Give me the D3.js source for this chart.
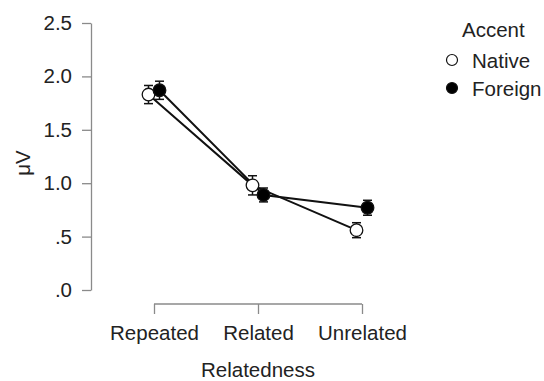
<!DOCTYPE html>
<html><head><meta charset="utf-8">
<script src="https://cdn.jsdelivr.net/npm/d3@7"></script>
<style>body{margin:0;background:#fff;} text{font-family:"Liberation Sans",Arial,sans-serif;}</style>
</head><body>
<svg id="c" width="544" height="381"></svg>
<script>
const categories = ["Repeated","Related","Unrelated"];
const seriesNames = ["Native","Foreign"];
const nativeValues = [1.83, 0.98, 0.56];
const nativeErrors = [0.085, 0.09, 0.07];
const foreignValues = [1.87, 0.89, 0.77];
const foreignErrors = [0.085, 0.065, 0.07];
const yTicks = [0, 0.5, 1.0, 1.5, 2.0, 2.5];
const yTickLabels = [".0", ".5", "1.0", "1.5", "2.0", "2.5"];

const FS = 20.5;
const svg = d3.select("#c");
const x = d3.scalePoint().domain(categories).range([154, 362]);
const y = d3.scaleLinear().domain([0, 2.5]).range([290, 23]);
const axisColor = "#8a8a8a";

// Y axis
const ya = svg.append("g").attr("transform","translate(91,0)")
  .call(d3.axisLeft(y).tickValues(yTicks).tickFormat((d,i)=>yTickLabels[i]).tickSize(9).tickSizeOuter(0).tickPadding(10));
ya.select(".domain").attr("stroke", axisColor).attr("stroke-width",1.3);
ya.selectAll(".tick line").attr("stroke", axisColor).attr("stroke-width",1.3);
ya.selectAll(".tick text").attr("font-size",FS).attr("fill","#222").attr("font-family","Liberation Sans, Arial, sans-serif");

// X axis
const xa = svg.append("g").attr("transform","translate(0,304)")
  .call(d3.axisBottom(x).tickSize(0).tickSizeOuter(0).tickPadding(21));
xa.select(".domain").remove();
xa.append("line").attr("x1",x(categories[0])).attr("x2",x(categories[2])).attr("y1",0).attr("y2",0).attr("stroke",axisColor).attr("stroke-width",1.3);
xa.selectAll(".tick").append("line").attr("y1",0).attr("y2",10).attr("stroke",axisColor).attr("stroke-width",1.3);
xa.selectAll(".tick text").attr("font-size",FS).attr("fill","#222").attr("font-family","Liberation Sans, Arial, sans-serif");

// axis titles
svg.append("text").attr("x",258).attr("y",377).attr("text-anchor","middle").attr("font-size",FS).attr("fill","#222").text("Relatedness");
svg.append("text").attr("transform","translate(30,163) rotate(-90)").attr("text-anchor","middle").attr("font-size",FS).attr("fill","#222").text("μV");

const series = [
  {name:"Native", values:nativeValues, errs:nativeErrors, fill:"#fff", dx:-5.5},
  {name:"Foreign", values:foreignValues, errs:foreignErrors, fill:"#000", dx:5.5}
];

const line = d3.line().x(d=>d.x).y(d=>d.y);
series.forEach(s=>{
  const pts = categories.map((c,i)=>({x:x(c)+s.dx, y:y(s.values[i])}));
  svg.append("path").datum(pts).attr("d",line).attr("fill","none").attr("stroke","#111").attr("stroke-width",2);
});
series.forEach(s=>{
  const pts = categories.map((c,i)=>({x:x(c)+s.dx, v:s.values[i], e:s.errs[i]}));
  const g = svg.append("g");
  pts.forEach(p=>{
    g.append("line").attr("x1",p.x).attr("x2",p.x).attr("y1",y(p.v+p.e)).attr("y2",y(p.v-p.e)).attr("stroke","#111").attr("stroke-width",1.5);
    [p.v+p.e,p.v-p.e].forEach(v=>g.append("line").attr("x1",p.x-4.5).attr("x2",p.x+4.5).attr("y1",y(v)).attr("y2",y(v)).attr("stroke","#111").attr("stroke-width",1.5));
    g.append("circle").attr("cx",p.x).attr("cy",y(p.v)).attr("r",6.3).attr("fill",s.fill).attr("stroke","#111").attr("stroke-width",1.3);
  });
});

// legend
svg.append("text").attr("x",462).attr("y",37).attr("font-size",FS).attr("fill","#222").text("Accent");
series.forEach((s,i)=>{
  const cy = 60 + i*28;
  svg.append("circle").attr("cx",452).attr("cy",cy).attr("r",5.5).attr("fill",s.fill).attr("stroke","#111").attr("stroke-width",1.2);
  svg.append("text").attr("x",472).attr("y",cy+7.5).attr("font-size",FS).attr("fill","#222").text(s.name);
});
</script>
</body></html>
